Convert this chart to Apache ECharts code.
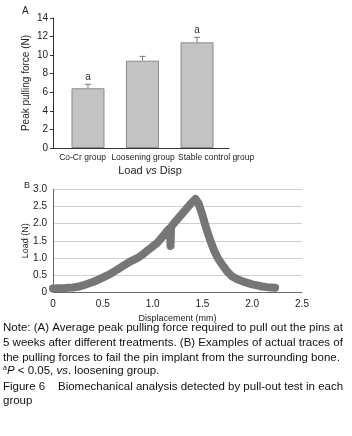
<!DOCTYPE html>
<html>
<head>
<meta charset="utf-8">
<script src="https://cdn.jsdelivr.net/npm/echarts@6/dist/echarts.min.js"></script>
<style>
  html, body { margin: 0; padding: 0; background: #fff; }
  #chart { width: 352px; height: 436px; }
</style>
</head>
<body>
<div id="chart"></div>
<script>
// panel A: peak pulling force
const groups = ["Co-Cr group", "Loosening group", "Stable control group"];
const peakForce = [6.43, 9.4, 11.38];
const peakErr = [0.43, 0.47, 0.54];
const sigMarks = ["a", "", "a"];

// panel B: load vs displacement trace
const disp = [0, 0.05, 0.1, 0.15, 0.2, 0.25, 0.3, 0.35, 0.4, 0.45, 0.5, 0.55, 0.6, 0.65,
  0.7, 0.75, 0.8, 0.85, 0.9, 0.95, 1.0, 1.05, 1.1, 1.15, 1.175, 1.18, 1.185, 1.2, 1.25,
  1.3, 1.35, 1.38, 1.43, 1.46, 1.5, 1.54, 1.58, 1.62, 1.66, 1.7, 1.75, 1.8, 1.85,
  1.91, 2.0, 2.05, 2.1, 2.15, 2.2, 2.23];
const load = [0.11, 0.12, 0.12, 0.13, 0.14, 0.16, 0.2, 0.25, 0.3, 0.36, 0.43, 0.5, 0.58, 0.67,
  0.76, 0.85, 0.93, 1.0, 1.1, 1.22, 1.33, 1.45, 1.62, 1.8, 1.87, 1.35, 1.89, 1.96, 2.13,
  2.3, 2.47, 2.57, 2.72, 2.6, 2.25, 1.85, 1.5, 1.2, 0.97, 0.8, 0.6, 0.46, 0.38,
  0.31, 0.23, 0.2, 0.17, 0.15, 0.14, 0.13];

const FONT = "Liberation Sans, Arial, sans-serif";
const labelAt = [0.9, 2.01, 3.35];

const chart = echarts.init(document.getElementById("chart"), null, { renderer: "canvas" });

const noteLines = [
  "Note: (A) Average peak pulling force required to pull out the pins at",
  "5 weeks after different treatments. (B) Examples of actual traces of",
  "the pulling forces to fail the pin implant from the surrounding bone.",
  "{s|a}{i|P} < 0.05, {i|vs}. loosening group.",
  "Figure 6    Biomechanical analysis detected by pull-out test in each",
  "group"
];
const noteY = [328, 343, 358, 371, 387, 401];

const option = {
  animation: false,
  textStyle: { fontFamily: FONT },
  grid: [
    { left: 53, top: 18, width: 176, height: 130 },
    { left: 53, top: 189.3, width: 249, height: 103 }
  ],
  xAxis: [
    {
      gridIndex: 0, type: "value", min: 0.358, max: 3.587,
      splitLine: { show: false },
      axisLine: { lineStyle: { color: "#333" } },
      axisTick: { show: false },
      axisLabel: {
        customValues: labelAt,
        fontSize: 8.5, color: "#222", margin: 5,
        formatter: (v) => {
          let i = 0;
          labelAt.forEach((p, k) => { if (Math.abs(p - v) < Math.abs(labelAt[i] - v)) i = k; });
          return groups[i];
        }
      }
    },
    {
      gridIndex: 1, type: "value", min: 0, max: 2.5, interval: 0.5,
      splitLine: { show: false },
      axisLine: { lineStyle: { color: "#666" } },
      axisTick: { show: false },
      axisLabel: { fontSize: 10, color: "#222", margin: 7,
        formatter: (v) => v === 0 ? "0" : v.toFixed(1) },
      name: "Displacement (mm)", nameLocation: "middle", nameGap: 22, nameMoveOverlap: false,
      nameTextStyle: { fontSize: 9, color: "#222" }
    }
  ],
  yAxis: [
    {
      gridIndex: 0, type: "value", min: 0, max: 14, interval: 2,
      splitLine: { show: false },
      axisLine: { show: true, lineStyle: { color: "#333" } },
      axisTick: { show: true, length: 3, lineStyle: { color: "#333" } },
      axisLabel: { fontSize: 10, color: "#222", margin: 5 },
      name: "Peak pulling force (N)", nameLocation: "middle", nameGap: 22, nameMoveOverlap: false,
      nameTextStyle: { fontSize: 10, color: "#222" }
    },
    {
      gridIndex: 1, type: "value", min: 0, max: 3, interval: 0.5,
      splitLine: { show: true, lineStyle: { color: "#cfcfcf" } },
      axisLine: { show: true, lineStyle: { color: "#666" } },
      axisTick: { show: false },
      axisLabel: { fontSize: 10, color: "#222", margin: 6,
        formatter: (v) => v === 0 ? "0" : v.toFixed(1) },
      name: "Load (N)", nameLocation: "middle", nameGap: 23, nameMoveOverlap: false,
      nameTextStyle: { fontSize: 9, color: "#222" }
    }
  ],
  series: [
    {
      type: "bar", xAxisIndex: 0, yAxisIndex: 0, barWidth: 33,
      data: peakForce.map((v, i) => [i + 1, v]),
      itemStyle: { color: "#c3c3c3", borderColor: "#8a8a8a", borderWidth: 1 }
    },
    {
      type: "custom", xAxisIndex: 0, yAxisIndex: 0, z: 5,
      data: peakForce.map((v, i) => [i + 1, v, peakErr[i]]),
      renderItem: (params, api) => {
        const x = api.value(0), m = api.value(1), e = api.value(2);
        const mark = sigMarks[params.dataIndex];
        const p0 = api.coord([x, m]);
        const p1 = api.coord([x, m + e]);
        const style = { stroke: "#777", lineWidth: 1 };
        const children = [
          { type: "line", shape: { x1: p0[0], y1: p0[1], x2: p1[0], y2: p1[1] }, style },
          { type: "line", shape: { x1: p1[0] - 3, y1: p1[1], x2: p1[0] + 3, y2: p1[1] }, style }
        ];
        if (mark) {
          children.push({ type: "text", style: { text: mark, x: p1[0], y: p1[1] - 7,
            align: "center", verticalAlign: "middle", fontSize: 10, fill: "#333", fontFamily: FONT } });
        }
        return { type: "group", children };
      }
    },
    {
      type: "line", xAxisIndex: 1, yAxisIndex: 1,
      data: disp.map((d, i) => [d, load[i]]),
      showSymbol: false,
      lineStyle: { color: "#767676", width: 8, cap: "round", join: "round" }
    }
  ],
  graphic: [
    { type: "text", left: 22, top: 6, style: { text: "A", fontSize: 10, fill: "#222", fontFamily: FONT } },
    { type: "text", left: 24, top: 181, style: { text: "B", fontSize: 9, fill: "#222", fontFamily: FONT } },
    { type: "text", x: 150, y: 171, style: {
      text: "Load {i|vs} Disp", align: "center", verticalAlign: "middle",
      fontSize: 11, fill: "#222", fontFamily: FONT,
      rich: { i: { fontStyle: "italic", fontSize: 11, fill: "#222", fontFamily: FONT } } } }
  ].concat(noteLines.map((t, i) => ({
    type: "text", x: 3, y: noteY[i], style: {
      text: t, verticalAlign: "middle", fontSize: 11.5, fill: "#111", fontFamily: FONT,
      rich: {
        s: { fontSize: 7, verticalAlign: "top", fill: "#111", fontFamily: FONT, padding: [0, 0, 5, 0] },
        i: { fontStyle: "italic", fontSize: 11.5, fill: "#111", fontFamily: FONT }
      } }
  })))
};

chart.setOption(option);
</script>
</body>
</html>
